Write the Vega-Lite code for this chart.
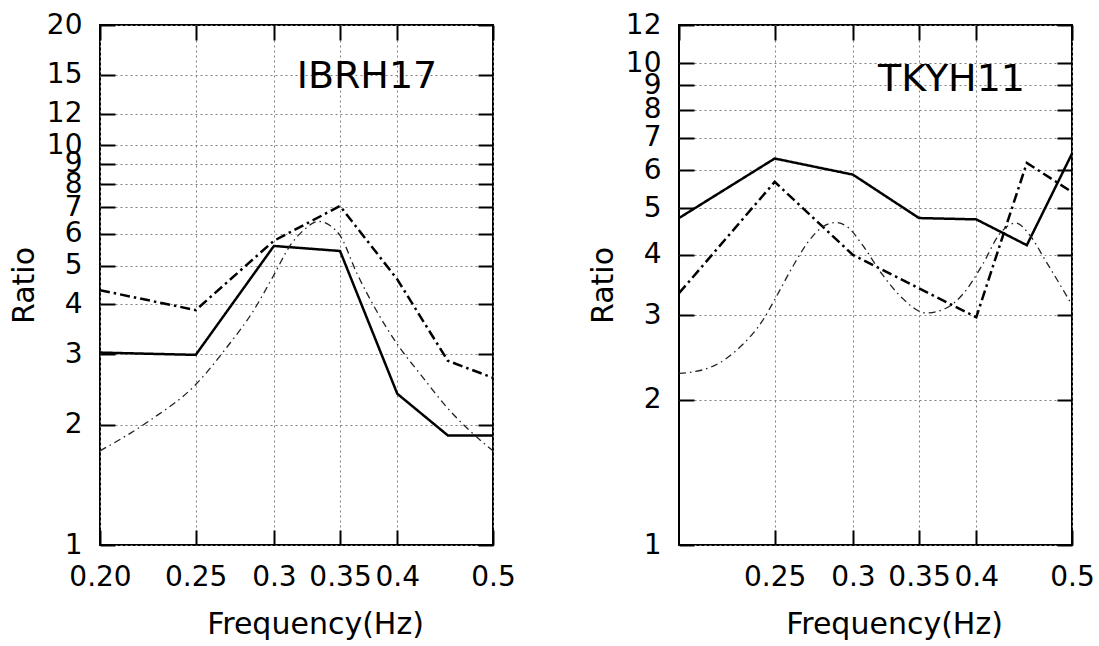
{
  "$schema": "https://vega.github.io/schema/vega-lite/v6.json",
  "padding": {"left": 8, "top": 10, "right": 0, "bottom": 0},
  "spacing": 70,
  "config": {
    "font": "DejaVu Sans",
    "view": {"stroke": "black", "strokeWidth": 2},
    "axis": {
      "domain": false,
      "tickColor": "black",
      "tickWidth": 2,
      "tickSize": -15,
      "labelFont": "DejaVu Sans",
      "labelFontSize": 28,
      "labelColor": "black",
      "labelFlush": false,
      "labelOverlap": false,
      "labelPadding": 33,
      "titleFont": "DejaVu Sans",
      "titleFontSize": 30,
      "titleFontWeight": "normal",
      "titleColor": "black",
      "gridColor": "#808080",
      "gridDash": [2, 3],
      "gridWidth": 1,
      "gridOpacity": 1
    }
  },
  "datasets": {
    "ibrh": [
      {"f": 0.2, "r": 3.03, "s": "A"}, {"f": 0.25, "r": 2.99, "s": "A"}, {"f": 0.3, "r": 5.6, "s": "A"}, {"f": 0.35, "r": 5.44, "s": "A"}, {"f": 0.4, "r": 2.39, "s": "A"}, {"f": 0.45, "r": 1.88, "s": "A"}, {"f": 0.5, "r": 1.88, "s": "A"},
      {"f": 0.2, "r": 4.34, "s": "B"}, {"f": 0.25, "r": 3.87, "s": "B"}, {"f": 0.3, "r": 5.77, "s": "B"}, {"f": 0.35, "r": 7.05, "s": "B"}, {"f": 0.4, "r": 4.62, "s": "B"}, {"f": 0.45, "r": 2.89, "s": "B"}, {"f": 0.5, "r": 2.62, "s": "B"}
    ],
    "ibrhc": [
      {"f": 0.2, "r": 1.72}, {"f": 0.2247, "r": 2.05}, {"f": 0.25, "r": 2.52}, {"f": 0.2687, "r": 3.12}, {"f": 0.2859, "r": 3.85}, {"f": 0.2996, "r": 4.71}, {"f": 0.3114, "r": 5.6}, {"f": 0.3212, "r": 6.12}, {"f": 0.3327, "r": 6.45}, {"f": 0.3419, "r": 6.3}, {"f": 0.35, "r": 5.95}, {"f": 0.3638, "r": 4.8}, {"f": 0.3812, "r": 3.85}, {"f": 0.4, "r": 3.18}, {"f": 0.4249, "r": 2.62}, {"f": 0.449, "r": 2.21}, {"f": 0.4738, "r": 1.93}, {"f": 0.5, "r": 1.72}
    ],
    "tkyh": [
      {"f": 0.2, "r": 4.77, "s": "A"}, {"f": 0.25, "r": 6.34, "s": "A"}, {"f": 0.3, "r": 5.87, "s": "A"}, {"f": 0.35, "r": 4.77, "s": "A"}, {"f": 0.4, "r": 4.74, "s": "A"}, {"f": 0.45, "r": 4.19, "s": "A"}, {"f": 0.5, "r": 6.49, "s": "A"},
      {"f": 0.2, "r": 3.33, "s": "B"}, {"f": 0.25, "r": 5.67, "s": "B"}, {"f": 0.3, "r": 4.0, "s": "B"}, {"f": 0.35, "r": 3.41, "s": "B"}, {"f": 0.4, "r": 2.97, "s": "B"}, {"f": 0.45, "r": 6.21, "s": "B"}, {"f": 0.5, "r": 5.4, "s": "B"}
    ],
    "tkyhc": [
      {"f": 0.2, "r": 2.27}, {"f": 0.2143, "r": 2.33}, {"f": 0.2317, "r": 2.6}, {"f": 0.2427, "r": 2.91}, {"f": 0.2504, "r": 3.25}, {"f": 0.2603, "r": 3.76}, {"f": 0.2706, "r": 4.27}, {"f": 0.2803, "r": 4.59}, {"f": 0.2881, "r": 4.67}, {"f": 0.2971, "r": 4.55}, {"f": 0.3066, "r": 4.2}, {"f": 0.3214, "r": 3.64}, {"f": 0.3368, "r": 3.25}, {"f": 0.3556, "r": 3.03}, {"f": 0.3727, "r": 3.1}, {"f": 0.3874, "r": 3.31}, {"f": 0.4059, "r": 3.82}, {"f": 0.422, "r": 4.41}, {"f": 0.4387, "r": 4.66}, {"f": 0.4526, "r": 4.41}, {"f": 0.4705, "r": 3.88}, {"f": 0.5, "r": 3.15}
    ],
    "labels": [
      {"panel": "IBRH17", "f": 0.3727, "r": 13.9},
      {"panel": "TKYH11", "f": 0.3776, "r": 8.75}
    ]
  },
  "hconcat": [
    {
      "width": 393,
      "height": 520,
      "resolve": {"axis": {"x": "independent", "y": "independent"}},
      "layer": [
        {
          "data": {"name": "ibrh"},
          "mark": {"type": "line", "color": "black", "strokeWidth": 2.5, "clip": true},
          "encoding": {
            "x": {"field": "f", "type": "quantitative", "scale": {"type": "log", "domain": [0.2, 0.5], "nice": false, "zero": false},
              "axis": {"orient": "bottom", "values": [0.2, 0.25, 0.3, 0.35, 0.4, 0.5], "labelExpr": "datum.value == 0.2 ? '0.20' : format(datum.value, '.2~f')", "grid": true, "title": "Frequency(Hz)", "titlePadding": 18, "titleX": 215}},
            "y": {"field": "r", "type": "quantitative", "scale": {"type": "log", "domain": [1, 20], "nice": false, "zero": false},
              "axis": {"orient": "left", "values": [1, 2, 3, 4, 5, 6, 7, 8, 9, 10, 12, 15, 20], "format": "d", "grid": true, "title": "Ratio", "titlePadding": 7}},
            "detail": {"field": "s"},
            "strokeDash": {"field": "s", "type": "nominal", "scale": {"domain": ["A", "B"], "range": [[1, 0], [10, 4, 2.5, 4]]}, "legend": null}
          }
        },
        {
          "data": {"name": "ibrhc"},
          "mark": {"type": "line", "color": "#222222", "strokeWidth": 1.3, "interpolate": "monotone", "strokeDash": [7, 4, 1.5, 4], "clip": true},
          "encoding": {
            "x": {"field": "f", "type": "quantitative", "axis": {"orient": "top", "values": [0.2, 0.25, 0.3, 0.35, 0.4, 0.5], "labels": false, "title": null, "grid": false}},
            "y": {"field": "r", "type": "quantitative", "axis": {"orient": "right", "values": [1, 2, 3, 4, 5, 6, 7, 8, 9, 10, 12, 15, 20], "labels": false, "title": null, "grid": false}}
          }
        },
        {
          "data": {"name": "labels"},
          "transform": [{"filter": "datum.panel == 'IBRH17'"}],
          "mark": {"type": "text", "fontSize": 38, "font": "DejaVu Sans", "align": "center", "baseline": "alphabetic", "color": "black"},
          "encoding": {
            "x": {"field": "f", "type": "quantitative", "axis": null},
            "y": {"field": "r", "type": "quantitative", "axis": null},
            "text": {"field": "panel"}
          }
        }
      ]
    },
    {
      "width": 393,
      "height": 520,
      "resolve": {"axis": {"x": "independent", "y": "independent"}},
      "layer": [
        {
          "data": {"name": "tkyh"},
          "mark": {"type": "line", "color": "black", "strokeWidth": 2.5, "clip": true},
          "encoding": {
            "x": {"field": "f", "type": "quantitative", "scale": {"type": "log", "domain": [0.2, 0.5], "nice": false, "zero": false},
              "axis": {"orient": "bottom", "values": [0.25, 0.3, 0.35, 0.4, 0.5], "labelExpr": "format(datum.value, '.2~f')", "grid": true, "title": "Frequency(Hz)", "titlePadding": 18, "titleX": 215}},
            "y": {"field": "r", "type": "quantitative", "scale": {"type": "log", "domain": [1, 12], "nice": false, "zero": false},
              "axis": {"orient": "left", "values": [1, 2, 3, 4, 5, 6, 7, 8, 9, 10, 12], "format": "d", "grid": true, "title": "Ratio", "titlePadding": 7}},
            "detail": {"field": "s"},
            "strokeDash": {"field": "s", "type": "nominal", "scale": {"domain": ["A", "B"], "range": [[1, 0], [10, 4, 2.5, 4]]}, "legend": null}
          }
        },
        {
          "data": {"name": "tkyhc"},
          "mark": {"type": "line", "color": "#222222", "strokeWidth": 1.3, "interpolate": "monotone", "strokeDash": [7, 4, 1.5, 4], "clip": true},
          "encoding": {
            "x": {"field": "f", "type": "quantitative", "axis": {"orient": "top", "values": [0.2, 0.25, 0.3, 0.35, 0.4, 0.5], "labels": false, "title": null, "grid": false}},
            "y": {"field": "r", "type": "quantitative", "axis": {"orient": "right", "values": [1, 2, 3, 4, 5, 6, 7, 8, 9, 10, 12], "labels": false, "title": null, "grid": false}}
          }
        },
        {
          "data": {"name": "labels"},
          "transform": [{"filter": "datum.panel == 'TKYH11'"}],
          "mark": {"type": "text", "fontSize": 38, "font": "DejaVu Sans", "align": "center", "baseline": "alphabetic", "color": "black"},
          "encoding": {
            "x": {"field": "f", "type": "quantitative", "axis": null},
            "y": {"field": "r", "type": "quantitative", "axis": null},
            "text": {"field": "panel"}
          }
        }
      ]
    }
  ]
}
